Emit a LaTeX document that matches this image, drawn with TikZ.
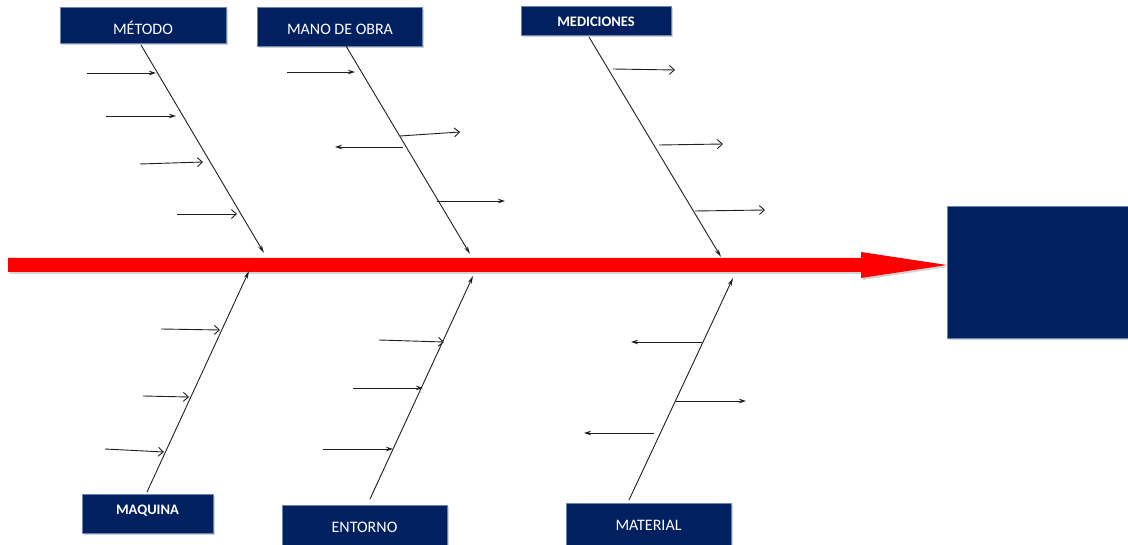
\documentclass[tikz,border=0pt]{standalone}
\usepackage{fontspec}
\setmainfont{Carlito}
\usetikzlibrary{arrows.meta,shadows}
\definecolor{navy}{HTML}{002060}
\definecolor{navyedge}{HTML}{6A86B0}
\definecolor{bonecol}{HTML}{1E1E1E}
\begin{document}
\begin{tikzpicture}[x=1pt,y=-1pt,
  catbox/.style={draw=navyedge, line width=0.6pt, fill=navy, inner sep=0pt, anchor=north west,
    drop shadow={opacity=0.35, shadow xshift=1.5pt, shadow yshift=-2pt}},
  cattext/.style={text=white, inner sep=0pt, font=\fontsize{16}{16}\selectfont},
  catbold/.style={text=white, inner sep=0pt, font=\bfseries\fontsize{14.5}{14.5}\selectfont},
  bonestyle/.style={draw=bonecol, line width=0.9pt, -{Stealth[length=8pt,width=4pt]}},
  subfill/.style={draw=bonecol, line width=0.9pt, -{Stealth[length=7pt,width=4.5pt]}},
  subopen/.style={draw=bonecol, line width=0.9pt, -{Straight Barb[length=5pt,width=9pt]}},
]
\useasboundingbox (0,0) rectangle (1128,545);

% category boxes
\node[catbox, minimum width=166pt, minimum height=36pt] (metodo) at (60,7) {};
\node[cattext] (metodoT) at (143,28) {MÉTODO};
\node[catbox, minimum width=165pt, minimum height=39pt] (mano) at (257,7) {};
\node[cattext] (manoT) at (340,29.5) {MANO DE OBRA};
\node[catbox, minimum width=150pt, minimum height=29pt] (medic) at (521,6) {};
\node[catbold] (medicT) at (596,22) {MEDICIONES};
\node[catbox, minimum width=131pt, minimum height=39pt] (maq) at (82,494) {};
\node[catbold] (maqT) at (147.5,510.5) {MAQUINA};
\node[catbox, minimum width=165pt, minimum height=45pt] (entorno) at (282,505) {};
\node[cattext] (entornoT) at (364.5,527) {ENTORNO};
\node[catbox, minimum width=165pt, minimum height=47pt] (material) at (566,503) {};
\node[cattext] (materialT) at (648.5,525) {MATERIAL};

% effect box
\node[catbox, minimum width=200pt, minimum height=132pt] (effect) at (947,206) {};

% spine
\fill[red, drop shadow={opacity=0.35, shadow xshift=1.5pt, shadow yshift=-2pt}]
  (8,258) -- (861,258) -- (861,252) -- (947,265) -- (861,278) -- (861,272) -- (8,272) -- cycle;

% bone end points
\coordinate (b1s) at (141,45);  \coordinate (b1e) at (264,253);
\coordinate (b2s) at (346,46);  \coordinate (b2e) at (470,254);
\coordinate (b3s) at (589,37);  \coordinate (b3e) at (721,257);
\coordinate (b4s) at (147,492); \coordinate (b4e) at (249,271);
\coordinate (b5s) at (370,499); \coordinate (b5e) at (473,276);
\coordinate (b6s) at (629,500); \coordinate (b6e) at (733,278);
\draw[bonestyle] (b1s) -- (b1e);
\draw[bonestyle] (b2s) -- (b2e);
\draw[bonestyle] (b3s) -- (b3e);
\draw[bonestyle] (b4s) -- (b4e);
\draw[bonestyle] (b5s) -- (b5e);
\draw[bonestyle] (b6s) -- (b6e);

% METODO sub-causes
\coordinate (m1a) at (87,73);  \coordinate (m1b) at (156,73);
\coordinate (m2a) at (106,116); \coordinate (m2b) at (176,116);
\coordinate (m3a) at (140,164); \coordinate (m3b) at (203,162);
\coordinate (m4a) at (177,214); \coordinate (m4b) at (237,214);
\draw[subfill] (m1a) -- (m1b);
\draw[subfill] (m2a) -- (m2b);
\draw[subopen] (m3a) -- (m3b);
\draw[subopen] (m4a) -- (m4b);

% MANO DE OBRA sub-causes
\coordinate (o1a) at (287,72);  \coordinate (o1b) at (355,72);
\coordinate (o2a) at (400,136); \coordinate (o2b) at (460,132);
\coordinate (o3a) at (403,147); \coordinate (o3b) at (335,147);
\coordinate (o4a) at (437,201); \coordinate (o4b) at (505,201);
\draw[subfill] (o1a) -- (o1b);
\draw[subopen] (o2a) -- (o2b);
\draw[subfill] (o3a) -- (o3b);
\draw[subfill] (o4a) -- (o4b);

% MEDICIONES sub-causes
\coordinate (d1a) at (613,69);  \coordinate (d1b) at (675,70);
\coordinate (d2a) at (659,145); \coordinate (d2b) at (723,144);
\coordinate (d3a) at (695,211); \coordinate (d3b) at (765,210);
\draw[subopen] (d1a) -- (d1b);
\draw[subopen] (d2a) -- (d2b);
\draw[subopen] (d3a) -- (d3b);

% MAQUINA sub-causes
\coordinate (q1a) at (161,329); \coordinate (q1b) at (220,330);
\coordinate (q2a) at (143,396); \coordinate (q2b) at (189,397);
\coordinate (q3a) at (105,449); \coordinate (q3b) at (164,452);
\draw[subopen] (q1a) -- (q1b);
\draw[subopen] (q2a) -- (q2b);
\draw[subopen] (q3a) -- (q3b);

% ENTORNO sub-causes
\coordinate (e1a) at (379,340); \coordinate (e1b) at (444,342);
\coordinate (e2a) at (353,388); \coordinate (e2b) at (423,388);
\coordinate (e3a) at (323,449); \coordinate (e3b) at (393,449);
\draw[subopen] (e1a) -- (e1b);
\draw[subfill] (e2a) -- (e2b);
\draw[subfill] (e3a) -- (e3b);

% MATERIAL sub-causes
\coordinate (t1a) at (702,342); \coordinate (t1b) at (631,342);
\coordinate (t2a) at (676,401); \coordinate (t2b) at (746,401);
\coordinate (t3a) at (654,433); \coordinate (t3b) at (584,433);
\draw[subfill] (t1a) -- (t1b);
\draw[subfill] (t2a) -- (t2b);
\draw[subfill] (t3a) -- (t3b);
\end{tikzpicture}
\end{document}
